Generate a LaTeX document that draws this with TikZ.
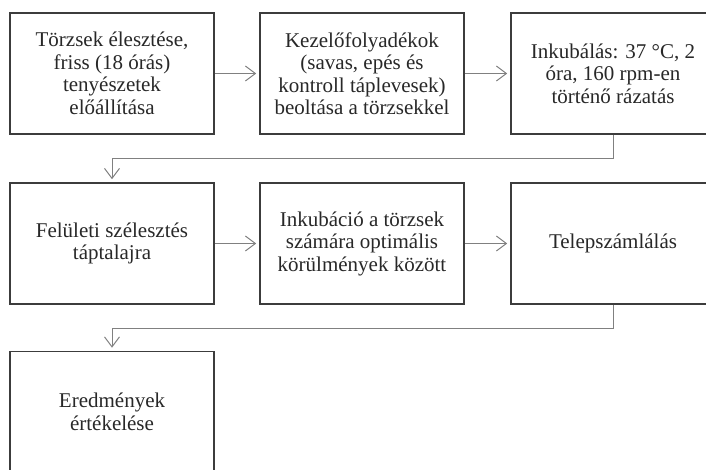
\documentclass[tikz,border=0pt]{standalone}
\usepackage{fontspec}
\setmainfont{Liberation Serif}
\usetikzlibrary{arrows.meta}
\definecolor{boxline}{RGB}{60,60,60}
\definecolor{txt}{RGB}{40,40,40}
\definecolor{connline}{RGB}{128,128,128}
\begin{document}
\begin{tikzpicture}[x=1pt,y=-1pt,
  stepbox/.style={draw=boxline, line width=1.6pt, fill=white, text=txt,
    minimum width=204pt, minimum height=121pt, inner sep=0pt, align=center,
    font=\fontsize{21}{22.5}\selectfont},
  conn/.style={draw=connline, line width=1pt,
    -{Straight Barb[length=10pt,width=15pt,line width=1pt]}, shorten >=3pt}]
\useasboundingbox (0,0) rectangle (706,470);
\node[stepbox] (b1) at (112,73.5) {Törzsek élesztése,\\friss (18 órás)\\tenyészetek\\előállítása};
\node[stepbox] (b2) at (362,73.5) {Kezelőfolyadékok\\(savas, epés és\\kontroll táplevesek)\\beoltása a törzsekkel};
\node[stepbox] (b3) at (613,73.5) {Inkubálás: 37 °C, 2\\óra, 160 rpm-en\\történő rázatás};
\node[stepbox] (b4) at (112,243.5) {Felületi szélesztés\\táptalajra};
\node[stepbox] (b5) at (362,243.5) {Inkubáció a törzsek\\számára optimális\\körülmények között};
\node[stepbox] (b6) at (613,243.5) {Telepszámlálás};
\node[stepbox] (b7) at (112,412) {Eredmények\\értékelése};
\draw[conn] (b1.east) -- (b2.west);
\draw[conn] (b2.east) -- (b3.west);
\draw[conn] (b3.south) -- ++(0,24) -| (b4.north);
\draw[conn] (b4.east) -- (b5.west);
\draw[conn] (b5.east) -- (b6.west);
\draw[conn] (b6.south) -- ++(0,24) -| (b7.north);
\end{tikzpicture}
\end{document}
